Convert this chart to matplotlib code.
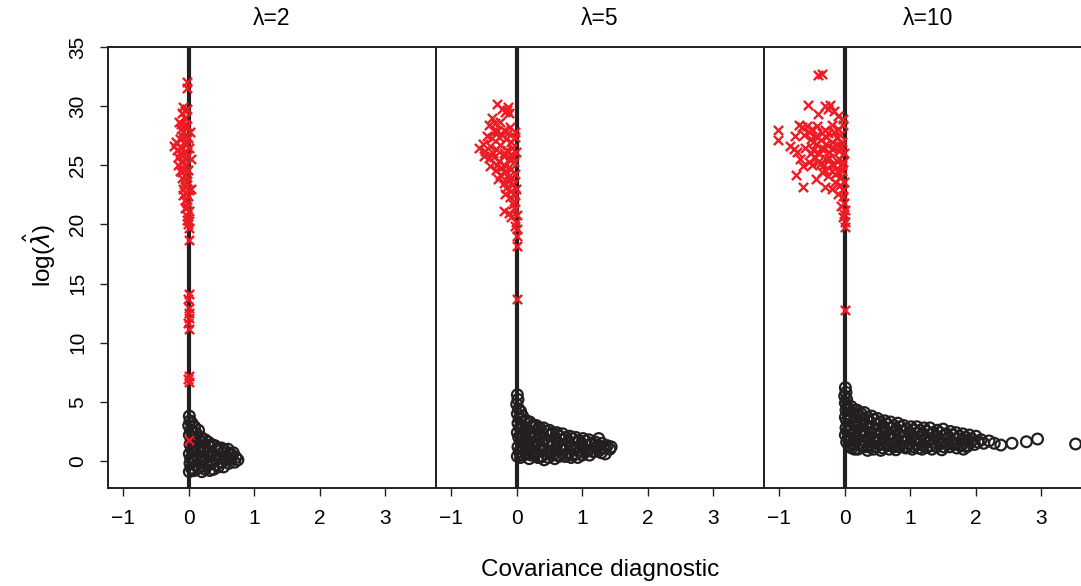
#!/usr/bin/env python3
"""Covariance diagnostic vs log(lambda-hat) for three lambda settings."""

import matplotlib
matplotlib.use("Agg")
import matplotlib.pyplot as plt
import numpy as np

plt.rcParams["font.family"] = ["Liberation Sans", "DejaVu Sans"]
plt.rcParams["mathtext.fontset"] = "dejavusans"

panel_titles = ["\u03bb=2", "\u03bb=5", "\u03bb=10"]
x_ticks = [-1, 0, 1, 2, 3]
y_ticks = [0, 5, 10, 15, 20, 25, 30, 35]

# black open circles (converged fits)
circ_lam2 = [
    (0.01, 3.8), (0.02, 3.4), (0.00, 3.0), (0.03, 2.6), (0.01, 2.2), (0.04, 1.8), (0.02, 1.4),
    (0.05, 1.0), (0.01, 0.6), (0.03, 0.2), (0.02, -0.2), (0.04, -0.6), (0.01, -0.9),
    (0.05, 3.2), (0.06, 2.4), (0.07, 1.6), (0.06, 0.8), (0.07, 0.0), (0.06, -0.7),
    (0.09, 2.9), (0.11, 2.4), (0.08, 2.0), (0.12, 1.6), (0.10, 1.2), (0.09, 0.8), (0.12, 0.4),
    (0.10, 0.0), (0.11, -0.4), (0.09, -0.8),
    (0.15, 2.6), (0.15, 1.8), (0.15, 1.0), (0.15, 0.2), (0.15, -0.6),
    (0.19, 2.0), (0.21, 1.6), (0.18, 1.2), (0.22, 0.8), (0.20, 0.4), (0.19, 0.0), (0.21, -0.4), (0.20, -0.9),
    (0.25, 1.8), (0.25, 1.0), (0.25, 0.2), (0.25, -0.7),
    (0.30, 1.6), (0.32, 1.2), (0.29, 0.8), (0.31, 0.4), (0.33, 0.0), (0.28, -0.4), (0.32, -0.8),
    (0.35, 1.4), (0.35, 0.6), (0.35, -0.2),
    (0.40, 1.3), (0.42, 0.9), (0.39, 0.5), (0.41, 0.1), (0.43, -0.3), (0.38, -0.7),
    (0.45, 1.1), (0.45, 0.3), (0.45, -0.5),
    (0.50, 1.1), (0.52, 0.7), (0.49, 0.3), (0.51, -0.1), (0.53, -0.5),
    (0.55, 0.9), (0.55, 0.1),
    (0.60, 1.0), (0.62, 0.6), (0.59, 0.2), (0.61, -0.2), (0.65, 0.2),
    (0.66, 0.5), (0.68, 0.7), (0.72, 0.3), (0.70, -0.1), (0.75, 0.1),
]

circ_lam5 = [
    (0.01, 5.6), (0.02, 5.2), (0.00, 4.8), (0.03, 4.4), (0.01, 4.0), (0.04, 3.6), (0.02, 3.2),
    (0.05, 2.8), (0.01, 2.4), (0.03, 2.0), (0.06, 1.6), (0.02, 1.2), (0.04, 0.8), (0.01, 0.4),
    (0.06, 4.2), (0.07, 3.0), (0.07, 2.2), (0.07, 1.0), (0.06, 0.3),
    (0.09, 3.8), (0.12, 3.3), (0.10, 2.9), (0.13, 2.4), (0.09, 2.0), (0.11, 1.5), (0.14, 1.0), (0.10, 0.5),
    (0.15, 3.4), (0.16, 2.6), (0.15, 1.8), (0.16, 1.2), (0.15, 0.6),
    (0.20, 3.3), (0.22, 2.9), (0.19, 2.4), (0.21, 2.0), (0.23, 1.5), (0.18, 1.0), (0.22, 0.5), (0.19, 0.2),
    (0.25, 3.0), (0.26, 2.2), (0.25, 1.3), (0.26, 0.6),
    (0.30, 3.0), (0.32, 2.6), (0.29, 2.1), (0.31, 1.7), (0.33, 1.2), (0.28, 0.7), (0.32, 0.3),
    (0.35, 2.8), (0.36, 2.0), (0.35, 1.0), (0.36, 0.3),
    (0.41, 2.8), (0.39, 2.4), (0.42, 1.9), (0.40, 1.4), (0.43, 0.9), (0.38, 0.4), (0.42, 0.1),
    (0.45, 2.5), (0.46, 1.6), (0.45, 0.6),
    (0.50, 2.6), (0.52, 2.2), (0.49, 1.7), (0.51, 1.2), (0.53, 0.7), (0.48, 0.3),
    (0.55, 2.4), (0.56, 1.4), (0.55, 0.5),
    (0.61, 2.4), (0.59, 2.0), (0.62, 1.5), (0.60, 1.0), (0.63, 0.5), (0.58, 0.2),
    (0.65, 2.1), (0.66, 1.2), (0.65, 0.4),
    (0.70, 2.3), (0.72, 1.8), (0.69, 1.4), (0.71, 0.9), (0.73, 0.4),
    (0.75, 2.0), (0.76, 1.1), (0.75, 0.4),
    (0.81, 2.1), (0.79, 1.7), (0.82, 1.2), (0.80, 0.7), (0.83, 0.3),
    (0.85, 1.9), (0.86, 1.0), (0.85, 0.5),
    (0.90, 2.0), (0.92, 1.6), (0.89, 1.1), (0.91, 0.6), (0.93, 0.3),
    (0.95, 1.7), (0.96, 0.9),
    (1.01, 1.9), (0.99, 1.5), (1.02, 1.0), (1.00, 0.5),
    (1.05, 1.7), (1.06, 0.8),
    (1.10, 1.8), (1.12, 1.4), (1.09, 0.9), (1.11, 0.5),
    (1.15, 1.5), (1.16, 0.8),
    (1.20, 1.6), (1.22, 1.2), (1.19, 0.8),
    (1.25, 1.9), (1.30, 1.5), (1.32, 1.1), (1.29, 0.7), (1.25, 1.3), (1.26, 0.9),
    (1.35, 1.1), (1.38, 1.3), (1.42, 1.0), (1.44, 1.2), (1.35, 0.6),
]

circ_lam10 = [
    (0.01, 6.2), (0.02, 5.8), (0.00, 5.5), (0.03, 5.2), (0.01, 4.9), (0.04, 4.6), (0.02, 4.3),
    (0.05, 4.0), (0.01, 3.7), (0.03, 3.4), (0.06, 3.1), (0.02, 2.8), (0.04, 2.5), (0.01, 2.2),
    (0.05, 1.9), (0.03, 1.6), (0.07, 1.3),
    (0.06, 4.4), (0.07, 3.6), (0.07, 2.7), (0.07, 1.9), (0.07, 1.2),
    (0.10, 4.6), (0.12, 4.1), (0.09, 3.6), (0.13, 3.2), (0.10, 2.7), (0.12, 2.3), (0.09, 1.8), (0.14, 1.4), (0.11, 1.1),
    (0.15, 4.3), (0.16, 3.4), (0.15, 2.5), (0.16, 1.6), (0.15, 1.0),
    (0.19, 4.3), (0.22, 3.8), (0.18, 3.3), (0.21, 2.9), (0.23, 2.4), (0.19, 2.0), (0.22, 1.5), (0.20, 1.0),
    (0.25, 4.0), (0.26, 3.1), (0.25, 2.2), (0.26, 1.3),
    (0.30, 4.1), (0.28, 3.5), (0.32, 3.0), (0.29, 2.5), (0.31, 2.1), (0.33, 1.6), (0.28, 1.2), (0.35, 0.9),
    (0.35, 3.7), (0.36, 2.8), (0.35, 1.9), (0.36, 1.2),
    (0.41, 3.8), (0.39, 3.3), (0.42, 2.8), (0.40, 2.3), (0.43, 1.8), (0.38, 1.4), (0.44, 1.0),
    (0.45, 3.5), (0.46, 2.6), (0.45, 1.6),
    (0.50, 3.6), (0.52, 3.1), (0.49, 2.6), (0.51, 2.1), (0.53, 1.7), (0.48, 1.2), (0.55, 0.9),
    (0.55, 3.3), (0.56, 2.4), (0.55, 1.4),
    (0.61, 3.4), (0.59, 2.9), (0.62, 2.4), (0.60, 2.0), (0.63, 1.5), (0.58, 1.1),
    (0.65, 3.1), (0.66, 2.2), (0.65, 1.3),
    (0.70, 3.3), (0.72, 2.8), (0.69, 2.3), (0.71, 1.8), (0.73, 1.4), (0.68, 1.0),
    (0.75, 3.0), (0.76, 2.1), (0.75, 1.2),
    (0.81, 3.2), (0.79, 2.7), (0.82, 2.2), (0.80, 1.7), (0.83, 1.2), (0.78, 0.95),
    (0.85, 2.9), (0.86, 2.0), (0.85, 1.3),
    (0.90, 3.0), (0.92, 2.5), (0.89, 2.1), (0.91, 1.6), (0.93, 1.1),
    (0.95, 2.7), (0.96, 1.8), (0.95, 1.2),
    (1.01, 2.9), (0.99, 2.4), (1.02, 2.0), (1.00, 1.5), (1.03, 1.0),
    (1.05, 2.6), (1.06, 1.8), (1.05, 1.2),
    (1.10, 2.9), (1.12, 2.4), (1.09, 1.9), (1.11, 1.4), (1.13, 1.1),
    (1.15, 2.6), (1.16, 1.7),
    (1.21, 2.8), (1.19, 2.3), (1.22, 1.8), (1.20, 1.3), (1.18, 1.0),
    (1.25, 2.5), (1.26, 1.6), (1.25, 1.15),
    (1.30, 2.8), (1.32, 2.3), (1.29, 1.8), (1.31, 1.3), (1.33, 1.0),
    (1.35, 2.4), (1.36, 1.6),
    (1.41, 2.6), (1.39, 2.1), (1.42, 1.7), (1.40, 1.2),
    (1.45, 2.4), (1.46, 1.5),
    (1.50, 2.7), (1.52, 2.2), (1.49, 1.6), (1.51, 1.2), (1.48, 0.95),
    (1.55, 2.3), (1.56, 1.4),
    (1.61, 2.5), (1.59, 2.0), (1.62, 1.6), (1.60, 1.2),
    (1.65, 2.2), (1.66, 1.4),
    (1.70, 2.4), (1.72, 1.9), (1.69, 1.5), (1.71, 1.1),
    (1.75, 2.1), (1.76, 1.3),
    (1.80, 2.3), (1.82, 1.8), (1.79, 1.4), (1.81, 1.0),
    (1.85, 2.0), (1.86, 1.2),
    (1.90, 2.2), (1.92, 1.6), (1.88, 1.3), (1.95, 1.8),
    (2.00, 2.1), (2.03, 1.6), (1.98, 1.4), (2.08, 1.8), (2.12, 1.5),
    (2.20, 1.7), (2.28, 1.5), (2.38, 1.35), (2.55, 1.5), (2.77, 1.63), (2.94, 1.86), (3.52, 1.44),
]

# red crosses (non-converged fits)
cross_lam2 = [
    (-0.02, 32.0), (-0.03, 31.5),
    (-0.08, 29.9), (-0.05, 29.6), (-0.10, 29.4), (-0.03, 29.8), (-0.06, 29.0),
    (-0.15, 28.7), (-0.06, 28.5), (-0.11, 28.1), (-0.02, 28.3), (0.02, 27.8), (-0.12, 28.5),
    (-0.09, 27.8), (-0.04, 27.5), (-0.13, 27.2), (-0.07, 27.0), (-0.01, 27.3), (-0.08, 27.4),
    (-0.19, 27.0), (-0.03, 26.8), (0.01, 26.5),
    (-0.22, 26.6), (-0.18, 26.3), (-0.12, 26.5), (-0.05, 26.2), (-0.09, 25.9), (-0.02, 25.8),
    (-0.14, 26.0), (-0.06, 25.5),
    (-0.16, 25.7), (-0.11, 25.3), (-0.04, 25.1), (-0.08, 24.8), (-0.01, 24.6), (0.03, 25.5),
    (-0.17, 25.0), (-0.10, 24.4), (-0.02, 24.0),
    (-0.13, 24.5), (-0.06, 24.2), (-0.10, 23.9), (-0.03, 23.7), (-0.07, 23.4), (0.04, 23.0),
    (-0.05, 23.2), (0.00, 22.9), (-0.08, 22.5),
    (-0.09, 23.0), (-0.04, 22.7), (-0.01, 22.4), (-0.06, 22.1), (-0.02, 21.8),
    (-0.05, 21.4), (0.00, 21.1), (-0.03, 20.7), (0.00, 20.3), (-0.01, 20.0), (0.00, 19.7),
    (-0.03, 21.5), (-0.02, 20.4),
    (0.00, 18.7),
    (0.00, 14.1), (-0.01, 13.7), (0.00, 12.9), (0.01, 12.5), (0.00, 12.1), (-0.01, 11.7), (0.00, 11.2),
    (0.00, 7.2), (-0.01, 6.9), (0.00, 6.7),
    (0.00, 1.8),
]

cross_lam5 = [
    (-0.30, 30.2), (-0.22, 29.8), (-0.15, 29.7), (-0.12, 29.4), (-0.18, 29.5), (-0.13, 29.9),
    (-0.38, 29.0), (-0.42, 28.4), (-0.33, 28.6), (-0.25, 28.7),
    (-0.30, 27.9), (-0.20, 28.0), (-0.10, 28.2), (-0.03, 27.8),
    (-0.34, 27.9), (-0.22, 27.6), (-0.14, 27.7),
    (-0.45, 27.5), (-0.37, 27.3), (-0.27, 27.4), (-0.17, 27.2), (-0.08, 27.0), (-0.02, 27.4),
    (-0.58, 26.5), (-0.52, 26.8), (-0.48, 26.2), (-0.40, 26.6), (-0.32, 26.4), (-0.25, 26.7),
    (-0.15, 26.3), (-0.07, 26.5), (-0.01, 26.1),
    (-0.36, 26.0), (-0.20, 26.0), (-0.10, 25.9),
    (-0.50, 25.8), (-0.42, 25.6), (-0.35, 25.7), (-0.27, 25.4), (-0.20, 25.8), (-0.12, 25.5), (-0.04, 25.3),
    (-0.30, 25.0), (-0.18, 24.9), (-0.06, 25.7),
    (-0.40, 24.9), (-0.32, 24.6), (-0.24, 24.8), (-0.16, 24.5), (-0.08, 24.7), (-0.02, 24.3),
    (-0.25, 24.2), (-0.14, 24.0), (-0.07, 23.9),
    (-0.28, 23.8), (-0.20, 23.5), (-0.12, 23.7), (-0.05, 23.4), (-0.01, 23.0),
    (-0.16, 23.1), (-0.08, 22.8), (-0.02, 22.5),
    (-0.18, 22.6), (-0.10, 22.3), (-0.04, 22.0), (-0.12, 21.0), (-0.03, 21.3), (0.00, 20.8),
    (-0.05, 21.7), (-0.20, 21.1), (-0.08, 20.6),
    (-0.01, 20.2), (0.00, 19.6), (0.00, 19.0), (0.00, 18.2), (-0.02, 19.9),
    (0.00, 13.7),
]

cross_lam10 = [
    (-0.41, 32.6), (-0.35, 32.7),
    (-0.56, 30.1), (-0.30, 30.0), (-0.25, 29.8), (-0.17, 29.6), (-0.22, 30.1),
    (-0.10, 29.2), (-0.40, 29.3), (-0.02, 28.9),
    (-1.02, 28.0), (-1.02, 27.1), (-0.84, 26.6),
    (-0.70, 28.4), (-0.65, 28.2), (-0.58, 28.3), (-0.50, 28.1), (-0.42, 28.3), (-0.30, 28.0),
    (-0.20, 28.4), (-0.10, 28.1), (-0.02, 28.4),
    (-0.55, 27.8), (-0.35, 27.7), (-0.25, 27.7), (-0.16, 27.8), (-0.07, 27.6),
    (-0.75, 27.5), (-0.62, 27.6), (-0.52, 27.2), (-0.44, 27.5), (-0.36, 27.1), (-0.28, 27.4),
    (-0.20, 27.0), (-0.12, 27.3), (-0.04, 27.0), (-0.48, 27.0),
    (-0.44, 26.8), (-0.28, 26.8), (-0.12, 26.7), (-0.05, 26.6), (-0.36, 26.5), (-0.20, 26.4),
    (-0.78, 26.4), (-0.72, 26.1), (-0.60, 26.5), (-0.48, 26.3), (-0.40, 26.0), (-0.32, 26.4),
    (-0.24, 26.1), (-0.16, 26.5), (-0.08, 26.2), (-0.01, 26.0), (-0.52, 26.0),
    (-0.68, 25.5), (-0.55, 25.3), (-0.45, 25.6), (-0.36, 25.2), (-0.28, 25.5), (-0.20, 25.1),
    (-0.12, 25.4), (-0.04, 25.0),
    (-0.50, 25.0), (-0.40, 25.3), (-0.32, 25.0), (-0.24, 25.6), (-0.16, 25.0), (-0.08, 25.5), (-0.02, 25.3),
    (-0.64, 24.9), (-0.74, 24.2), (-0.64, 23.2), (-0.43, 23.8), (-0.35, 24.4), (-0.25, 24.1),
    (-0.15, 24.3), (-0.06, 24.0), (-0.01, 23.6),
    (-0.30, 24.6), (-0.20, 24.5), (-0.10, 24.4), (-0.04, 24.5),
    (-0.30, 23.2), (-0.20, 23.0), (-0.10, 22.6), (-0.03, 22.4), (-0.01, 21.8), (0.00, 21.2),
    (-0.15, 23.6), (-0.07, 23.3), (-0.02, 22.9), (-0.05, 21.6), (-0.01, 20.9),
    (-0.02, 20.6), (0.00, 20.2), (0.00, 19.8),
    (0.00, 12.8),
]

circles = [circ_lam2, circ_lam5, circ_lam10]
crosses = [cross_lam2, cross_lam5, cross_lam10]

INK = "#231f20"
RED = "#ed1c24"


def main() -> None:
    fig = plt.figure(figsize=(10.81, 5.86), dpi=100)
    left0, width = 108 / 1081, 328 / 1081
    bottom, height = (586 - 488) / 586, (488 - 47) / 586

    for i in range(3):
        ax = fig.add_axes([left0 + i * width, bottom, width, height])
        c = np.array(circles[i])
        r = np.array(crosses[i])
        ax.axvline(0, color=INK, lw=3.0, zorder=1)
        ax.scatter(c[:, 0], c[:, 1], s=60, facecolors="none", edgecolors=INK, linewidths=1.6, zorder=2)
        ax.scatter(r[:, 0], r[:, 1], s=44, marker="x", color=RED, linewidths=1.7, zorder=3)

        ax.set_xlim(-1.23, 3.77)
        ax.set_ylim(-2.28, 35)
        ax.set_xticks(x_ticks)
        ax.tick_params(axis="x", direction="out", length=6, width=1.0, color=INK,
                       pad=9, labelsize=15)
        if i == 0:
            ax.set_yticks(y_ticks)
            ax.tick_params(axis="y", direction="out", length=6, width=1.0, color=INK,
                           pad=9, labelsize=15)
            for lab in ax.get_yticklabels():
                lab.set_rotation(90)
                lab.set_va("center")
        else:
            ax.set_yticks([])
        for sp in ax.spines.values():
            sp.set_color(INK)
            sp.set_linewidth(1.4)
        ax.set_title(panel_titles[i], fontsize=16.5, pad=16)

    fig.text(600 / 1081, 1 - 570 / 586, "Covariance diagnostic", ha="center", va="center", fontsize=17.5)
    fig.text(40 / 1081, 1 - 255 / 586, r"log($\hat{\lambda}$)", ha="center", va="center",
             rotation=90, fontsize=17.5)

    fig.savefig("out.png", dpi=100)


if __name__ == "__main__":
    main()
